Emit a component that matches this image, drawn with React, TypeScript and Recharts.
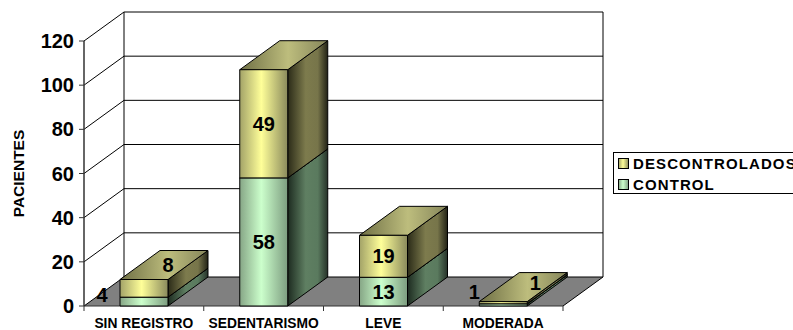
import { BarChart, Bar, XAxis, YAxis, CartesianGrid, LabelList, Legend } from 'recharts'

const categories = ['SIN REGISTRO', 'SEDENTARISMO', 'LEVE', 'MODERADA']
const control = [4, 58, 13, 1]
const descontrolados = [8, 49, 19, 1]
const yTicks = [0, 20, 40, 60, 80, 100, 120]

const rows = categories.map((name, i) => ({
  name,
  control: control[i],
  descontrolados: descontrolados[i],
}))

const FONT = '"Liberation Sans", Arial, sans-serif'
// oblique projection of the 3D box
const DEPTH_X = 40
const DEPTH_Y = 29

// labels of the short stacks sit beside the bar instead of on it
const controlNudge = [[-42, -7], [0, 0], [0, 0], [-29, -13]]
const descontroladosNudge = [[24, -23], [0, 0], [0, 0], [32, -20]]

function Box3D(props: any) {
  const { x, y, width, height, tone } = props
  const r = x + width
  const b = y + height
  return (
    <g stroke="#000" strokeWidth={1} strokeLinejoin="round">
      <polygon
        points={`${r},${y} ${r + DEPTH_X},${y - DEPTH_Y} ${r + DEPTH_X},${b - DEPTH_Y} ${r},${b}`}
        fill={`url(#side-${tone})`}
      />
      <polygon
        points={`${x},${y} ${x + DEPTH_X},${y - DEPTH_Y} ${r + DEPTH_X},${y - DEPTH_Y} ${r},${y}`}
        fill={`url(#top-${tone})`}
      />
      <rect x={x} y={y} width={width} height={height} fill={`url(#front-${tone})`} />
    </g>
  )
}

// walls and floor hang off the grid lines so they follow the y scale
function WallLine(props: any) {
  const { x1, x2, y1, index } = props
  const isFloor = y1 > 300
  const isTop = index === 0 ? !isFloor : y1 < 50
  return (
    <g key={`wall-${y1}`} stroke="#000" strokeWidth={1}>
      {isFloor && (
        <polygon
          points={`${x1},${y1} ${x2},${y1} ${x2 + DEPTH_X},${y1 - DEPTH_Y} ${x1 + DEPTH_X},${y1 - DEPTH_Y}`}
          fill="#808080"
          stroke="none"
        />
      )}
      {isFloor && <line x1={x2} y1={y1} x2={x2 + DEPTH_X} y2={y1 - DEPTH_Y} />}
      {isFloor && <line x1={x1} y1={y1} x2={x2} y2={y1} stroke="#333" />}
      <line x1={x1} y1={y1} x2={x1 + DEPTH_X} y2={y1 - DEPTH_Y} />
      <line x1={x1 + DEPTH_X} y1={y1 - DEPTH_Y} x2={x2 + DEPTH_X} y2={y1 - DEPTH_Y} />
      {isTop && (
        <>
          <line x1={x1 + DEPTH_X} y1={y1 - DEPTH_Y} x2={x1 + DEPTH_X} y2={y1 - DEPTH_Y + 265} />
          <line x1={x2 + DEPTH_X} y1={y1 - DEPTH_Y} x2={x2 + DEPTH_X} y2={y1 - DEPTH_Y + 265} />
        </>
      )}
    </g>
  )
}

function CategoryTick(props: any) {
  const { x, y, payload, index, visibleTicksCount } = props
  const band = 479 / (visibleTicksCount || 4)
  const left = x - band / 2
  return (
    <g>
      <line x1={left} y1={306} x2={left} y2={311} stroke="#333" />
      {index === categories.length - 1 && (
        <line x1={left + band} y1={306} x2={left + band} y2={311} stroke="#333" />
      )}
      <text x={x} y={y + 14} textAnchor="middle" fontFamily={FONT} fontWeight="bold" fontSize={13.8} fill="#000">
        {payload.value}
      </text>
    </g>
  )
}

function barLabel(nudge: number[][]) {
  return (p: any) => {
    const [dx, dy] = nudge[p.index] ?? [0, 0]
    return (
      <text
        x={p.x + p.width / 2 + dx}
        y={p.y + p.height / 2 + dy}
        textAnchor="middle"
        dominantBaseline="central"
        fontFamily={FONT}
        fontWeight="bold"
        fontSize={20}
        fill="#000"
      >
        {p.value}
      </text>
    )
  }
}

function LegendBox({ payload }: any) {
  const items = [...(payload ?? [])].sort((a, b) => (a.value < b.value ? 1 : -1))
  return (
    <div
      style={{
        width: 240,
        height: 42,
        boxSizing: 'border-box',
        border: '1px solid #000',
        fontFamily: FONT,
        fontWeight: 'bold',
        fontSize: 15,
        letterSpacing: 1.1,
        color: '#000',
        background: '#fff',
        paddingLeft: 4,
        paddingTop: 0,
      }}
    >
      {items.map((item: any) => (
        <div key={item.value} style={{ display: 'flex', alignItems: 'center', height: 21 }}>
          <svg width={11} height={11} style={{ marginRight: 4, flex: 'none' }}>
            <rect x={0.5} y={0.5} width={10} height={10} fill={item.color} stroke="#000" />
          </svg>
          {item.value}
        </div>
      ))}
    </div>
  )
}

function Shade({ id, stops }: { id: string; stops: [number, string][] }) {
  return (
    <linearGradient id={id} x1="0" y1="0" x2="1" y2="0">
      {stops.map(([o, c]) => (
        <stop key={o} offset={o} stopColor={c} />
      ))}
    </linearGradient>
  )
}

export default function App() {
  return (
    <div style={{ position: 'absolute', left: 0, top: 0, width: 793, height: 330, overflow: 'hidden', background: '#fff' }}>
      <BarChart
        width={793}
        height={330}
        data={rows}
        margin={{ top: 41, right: 230, bottom: 0, left: 0 }}
        barSize={48}
      >
        <defs>
          <Shade id="front-yellow" stops={[[0, '#a3a368'], [0.45, '#ffff99'], [1, '#8a8a5c']]} />
          <Shade id="side-yellow" stops={[[0, '#2b2b18'], [0.45, '#7d7b4d'], [0.75, '#77754a'], [1, '#222216']]} />
          <Shade id="top-yellow" stops={[[0, '#6f6f45'], [0.55, '#bdbd7d'], [1, '#85855a']]} />
          <Shade id="front-green" stops={[[0, '#86a686'], [0.45, '#ccffcc'], [1, '#7d9d80']]} />
          <Shade id="side-green" stops={[[0, '#1d2b20'], [0.45, '#5f7f62'], [0.75, '#5a7a5e'], [1, '#263229']]} />
          <Shade id="top-green" stops={[[0, '#5c7a5c'], [0.55, '#9cc09c'], [1, '#6f8f70']]} />
        </defs>
        <CartesianGrid vertical={false} horizontal={WallLine} />
        <XAxis
          dataKey="name"
          height={24}
          interval={0}
          axisLine={false}
          tickLine={false}
          tick={CategoryTick}
        />
        <YAxis
          width={84}
          domain={[0, 120]}
          ticks={yTicks}
          interval={0}
          axisLine={{ stroke: '#333', strokeWidth: 1.5 }}
          tickLine={{ stroke: '#333' }}
          tickSize={5}
          tickMargin={5}
          tick={{ fontFamily: FONT, fontWeight: 'bold', fontSize: 20, fill: '#000' }}
          label={{
            value: 'PACIENTES',
            angle: -90,
            position: 'insideLeft',
            offset: 18,
            style: { fontFamily: FONT, fontWeight: 'bold', fontSize: 15.5, fill: '#000', textAnchor: 'middle' },
          }}
        />
        <Legend
          layout="vertical"
          align="center"
          verticalAlign="middle"
          content={LegendBox}
          wrapperStyle={{ left: 613, top: 152, width: 240, height: 42 }}
        />
        <Bar
          dataKey="control"
          name="CONTROL"
          stackId="pacientes"
          fill="url(#front-green)"
          isAnimationActive={false}
          shape={(p: any) => <Box3D {...p} tone="green" />}
        >
          <LabelList dataKey="control" content={barLabel(controlNudge)} />
        </Bar>
        <Bar
          dataKey="descontrolados"
          name="DESCONTROLADOS"
          stackId="pacientes"
          fill="url(#front-yellow)"
          isAnimationActive={false}
          shape={(p: any) => <Box3D {...p} tone="yellow" />}
        >
          <LabelList dataKey="descontrolados" content={barLabel(descontroladosNudge)} />
        </Bar>
      </BarChart>
    </div>
  )
}
